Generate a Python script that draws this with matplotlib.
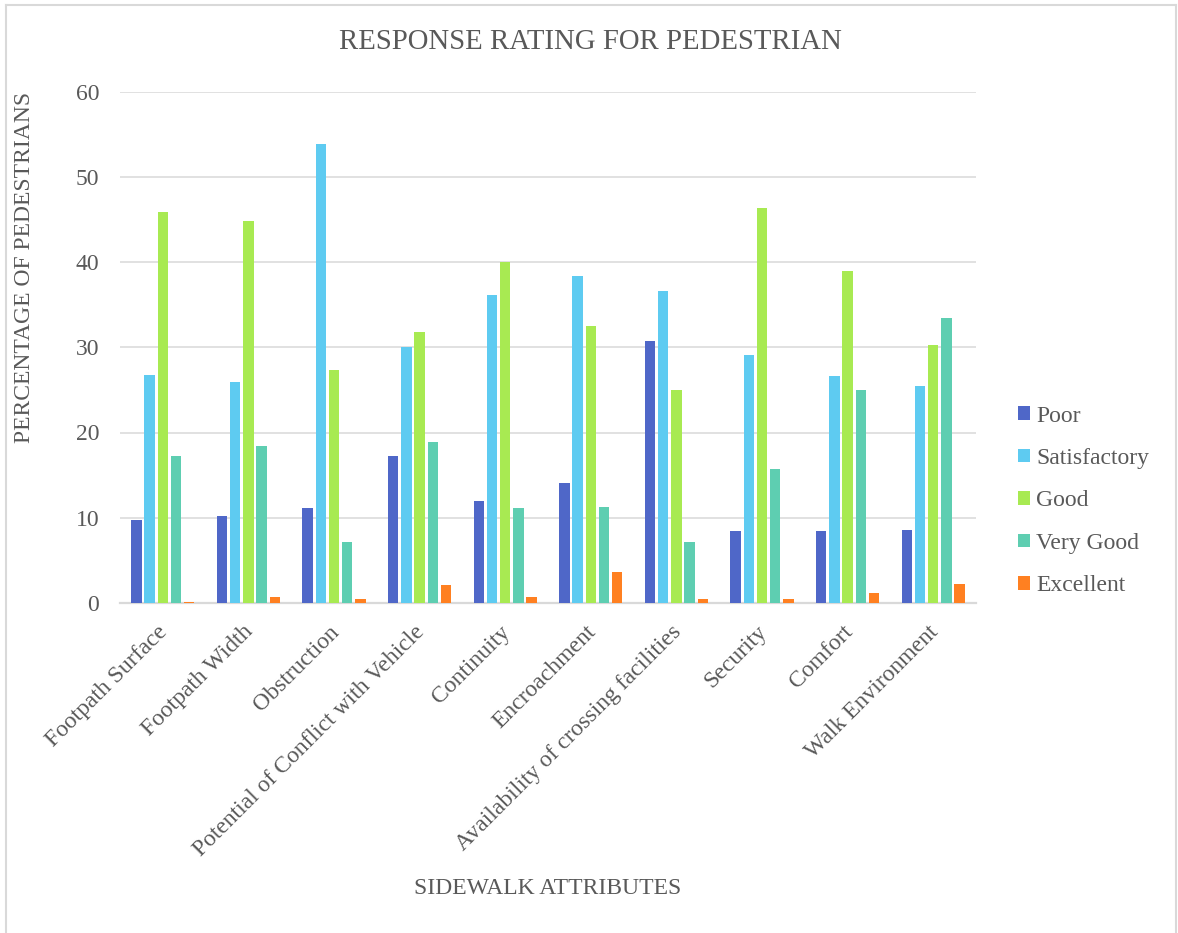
import numpy as np
import matplotlib
matplotlib.use("Agg")
import matplotlib.pyplot as plt
from matplotlib.lines import Line2D

# Survey results: share of pedestrians (%) giving each rating per sidewalk attribute
categories = [
    "Footpath Surface", "Footpath Width", "Obstruction",
    "Potential of Conflict with Vehicle", "Continuity", "Encroachment",
    "Availability of crossing facilities", "Security", "Comfort",
    "Walk Environment",
]
poor         = [9.7, 10.2, 11.1, 17.2, 12.0, 14.1, 30.7, 8.4, 8.4, 8.6]
satisfactory = [26.8, 25.9, 53.8, 30.0, 36.1, 38.4, 36.6, 29.1, 26.6, 25.4]
good         = [45.9, 44.8, 27.3, 31.8, 40.0, 32.5, 25.0, 46.3, 38.9, 30.3]
very_good    = [17.2, 18.4, 7.2, 18.9, 11.1, 11.3, 7.2, 15.7, 25.0, 33.4]
excellent    = [0.16, 0.65, 0.44, 2.06, 0.65, 3.6, 0.44, 0.44, 1.13, 2.26]
series_names = ["Poor", "Satisfactory", "Good", "Very Good", "Excellent"]
y_ticks = [0, 10, 20, 30, 40, 50, 60]

series = [poor, satisfactory, good, very_good, excellent]
colors = ["#4F67C8", "#5ECBF1", "#A8EA52", "#5ECEB1", "#FF8021"]
text_color = "#595959"

plt.rcParams["font.family"] = ["Liberation Serif", "DejaVu Serif"]

W, H = 1178, 933
fig = plt.figure(figsize=(W / 100, H / 100), dpi=100)
ax = fig.add_axes([120 / W, 1 - 603 / H, (976 - 120) / W, (603 - 91.5) / H])

x = np.arange(len(categories))
step = 0.154
width = 0.121
for i, (vals, name, col) in enumerate(zip(series, series_names, colors)):
    ax.bar(x + (i - 2) * step, vals, width=width, color=col, label=name, zorder=3)

ax.set_xlim(-0.5, len(categories) - 0.5)
ax.set_ylim(0, 60)
ax.set_yticks(y_ticks)
ax.yaxis.grid(True, color="#D9D9D9", linewidth=1.1, zorder=0)
ax.set_axisbelow(True)
for side in ["top", "right", "left"]:
    ax.spines[side].set_visible(False)
ax.spines["bottom"].set_color("#D9D9D9")
ax.spines["bottom"].set_linewidth(1.6)

ax.tick_params(axis="y", length=0, pad=15, labelsize=17, labelcolor=text_color)
ax.tick_params(axis="x", length=0, pad=18.6, labelsize=17, labelcolor=text_color)
ax.set_xticks(x + 0.02)
ax.set_xticklabels(categories, rotation=45, ha="right", va="center",
                   rotation_mode="anchor")

ax.set_ylabel("PERCENTAGE OF PEDESTRIANS", fontsize=17, color=text_color)
ax.yaxis.set_label_coords(-0.0993, 0.657)
ax.set_xlabel("SIDEWALK ATTRIBUTES", fontsize=17, color=text_color)
ax.xaxis.set_label_coords(0.5, -(888 - 603) / (603 - 91.5))
ax.xaxis.label.set_va("center")

fig.text(0.501, 1 - 42 / H, "RESPONSE RATING FOR PEDESTRIAN", fontsize=20.7,
         color=text_color, ha="center", va="center")

fig.legend(loc="center left", bbox_to_anchor=(1018 / W, 1 - 501 / H),
           frameon=False, fontsize=17, handlelength=0.51, handleheight=0.51,
           handletextpad=0.25, labelspacing=0.91, borderpad=0, borderaxespad=0,
           labelcolor=text_color)

# light chart-area border
border = dict(color="#D9D9D9", linewidth=1.5, transform=fig.transFigure)
fig.add_artist(Line2D([6 / W, 6 / W], [0, 1 - 5 / H], **border))
fig.add_artist(Line2D([6 / W, 1176 / W], [1 - 5 / H, 1 - 5 / H], **border))
fig.add_artist(Line2D([1176 / W, 1176 / W], [0, 1 - 5 / H], **border))

fig.savefig("out.png", dpi=100, facecolor="white")
